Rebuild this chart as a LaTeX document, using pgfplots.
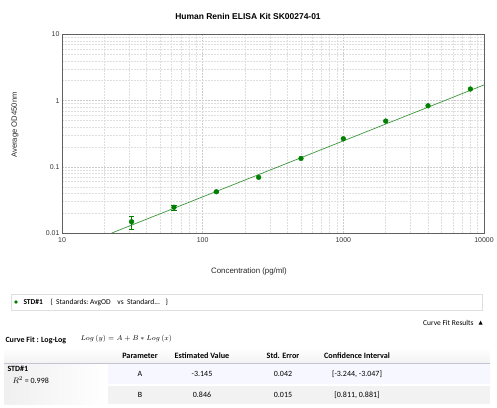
\documentclass[border=0pt]{standalone}
\usepackage{pgfplots}
\pgfplotsset{compat=1.18}
\usepackage{fontspec}
\setmainfont{Liberation Sans}
\newfontfamily\carl{Carlito}
\newfontfamily\dvs{DejaVu Sans}
\definecolor{ptgreen}{RGB}{0,128,0}
\definecolor{lngreen}{RGB}{60,150,60}
\begin{document}
\begin{tikzpicture}[x=1bp,y=1bp]
\useasboundingbox (0,0) rectangle (497,407);
\begin{axis}[
  at={(62bp,174bp)}, anchor=south west,
  scale only axis, width=422bp, height=198.5bp,
  xmode=log, ymode=log,
  xmin=10, xmax=10000, ymin=0.01, ymax=10,
  xtick={10,100,1000,10000}, xticklabels={10,100,1000,10000},
  ytick={0.01,0.1,1,10}, yticklabels={0.01,0.1,1,10},
  minor xtick={20,30,40,50,60,70,80,90,200,300,400,500,600,700,800,900,2000,3000,4000,5000,6000,7000,8000,9000},
  minor ytick={0.02,0.03,0.04,0.05,0.06,0.07,0.08,0.09,0.2,0.3,0.4,0.5,0.6,0.7,0.8,0.9,2,3,4,5,6,7,8,9},
  grid=both,
  major grid style={gray!40, dash pattern=on 2pt off 1pt, line width=0.5pt},
  minor grid style={gray!25, dash pattern=on 2pt off 1pt, line width=0.5pt},
  axis line style={gray!75!black, line width=1pt},
  major tick length=0pt, minor tick length=0pt,
  tick label style={font=\fontsize{7}{8}\selectfont, text=black!80},
  xticklabel style={yshift=-1bp},
  yticklabel style={xshift=1bp},
]
\addplot[lngreen, line width=0.7pt] coordinates {(22.6,0.01) (10000,1.73)};
\addplot[only marks, mark=*, mark size=2.4pt, color=ptgreen,
  mark options={fill=ptgreen, draw=ptgreen},
  error bars/.cd, y dir=both, y explicit,
  error bar style={ptgreen, line width=0.6pt},
  error mark options={rotate=90, mark size=2.8pt, ptgreen}]
  coordinates {
  (31.25,0.0148) +- (0,0.0033)
  (62.5,0.0245) +- (0,0.0021)
  (125,0.042) +- (0,0.0008)
  (250,0.0694)
  (500,0.134)
  (1000,0.266)
  (2000,0.492)
  (4000,0.838)
  (8000,1.50)
  };
\end{axis}
% title and axis labels
\node[font=\fontsize{8.5}{9}\selectfont\bfseries] at (248,391) {Human Renin ELISA Kit SK00274-01};
\node[font=\fontsize{7.9}{8}\selectfont, text=black!85] at (249,136) {Concentration (pg/ml)};
\node[font=\fontsize{7.7}{8}\selectfont, text=black!85, rotate=90] at (15,282) {Average OD450nm};
% legend box
\draw[gray!25, line width=0.6pt] (11,113) rectangle (482,97);
\fill[ptgreen] (16,105) circle (1.8);
\node[anchor=west, font=\carl\fontsize{7.5}{8}\selectfont\bfseries] at (20,105) {STD\#1};
\node[anchor=west, font=\carl\fontsize{7.5}{8}\selectfont] at (47,105) {\{ \ Standards:\ AvgOD \ \ \ vs \ Standard... \ \ \}};
% curve fit results
\node[anchor=east, font=\carl\fontsize{7.5}{8}\selectfont] at (477,84) {Curve Fit Results};
\node[anchor=east, font=\dvs\fontsize{5.5}{6}\selectfont, inner sep=0pt] at (483,84) {▲};
\node[anchor=west, font=\carl\fontsize{8}{9}\selectfont\bfseries] at (2,67) {Curve Fit : Log-Log};
\node[anchor=west, font=\fontsize{7.5}{8}\selectfont] at (77,68) {$Log\,(y) = A + B * Log\,(x)$};
% table backgrounds
\shade[top color=white, bottom color=gray!10] (4,59) rectangle (490,44);
\draw[blue!15!gray!40, line width=1pt] (4,43.5) -- (490,43.5);
\shade[left color=gray!12, right color=white] (4,43) rectangle (108,3);
\fill[blue!3] (108,43) rectangle (490,23);
\fill[gray!10] (108,21) rectangle (490,3);
% header
\begin{scope}[font=\carl\fontsize{8}{9}\selectfont]
\node[font=\carl\fontsize{8.2}{9}\selectfont\bfseries] at (140,51) {Parameter};
\node[font=\carl\fontsize{8.2}{9}\selectfont\bfseries] at (202,51) {Estimated Value};
\node[font=\carl\fontsize{8.2}{9}\selectfont\bfseries] at (283,51) {Std. Error};
\node[font=\carl\fontsize{8.2}{9}\selectfont\bfseries] at (357,51) {Confidence Interval};
\node at (140,33) {A};
\node at (202,33) {-3.145};
\node at (283,33) {0.042};
\node at (357,33) {[-3.244, -3.047]};
\node at (140,12) {B};
\node at (202,12) {0.846};
\node at (283,12) {0.015};
\node at (357,12) {[0.811, 0.881]};
\node[anchor=west, font=\carl\fontsize{8}{9}\selectfont\bfseries] at (4,38) {STD\#1};
\node[anchor=west] at (9,27) {$R^2$ = 0.998};
\end{scope}
\end{tikzpicture}
\end{document}
